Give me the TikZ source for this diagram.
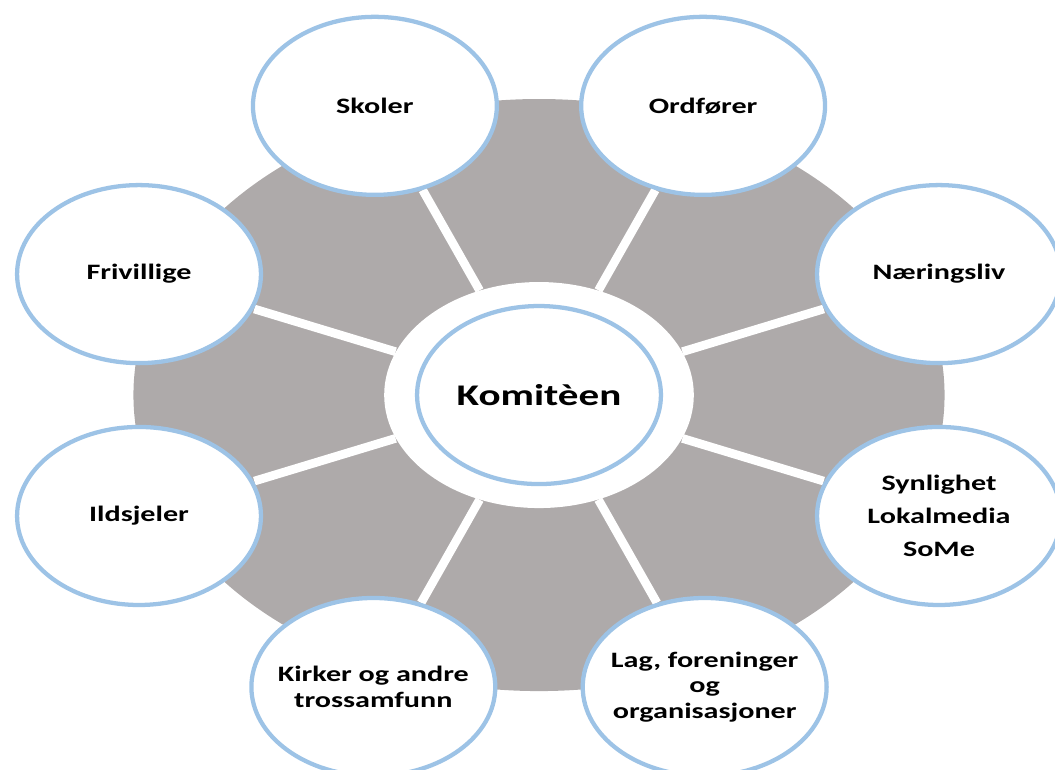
\documentclass[tikz,border=0pt]{standalone}
\usepackage{fontspec}
\setmainfont{Carlito}
\usetikzlibrary{backgrounds}
\definecolor{ringBlue}{RGB}{157,195,230}
\definecolor{ringGrey}{RGB}{174,170,170}
\begin{document}
\begin{tikzpicture}
[x=0.75pt,y=0.75pt,xscale=1.37,transform shape,
outerBead/.style={circle,draw=ringBlue,fill=white,line width=3.2pt,
inner sep=0pt,minimum size=133.5pt,align=center,
font=\bfseries\fontsize{16.5}{19}\selectfont},
whiteRing/.style={circle,fill=white,inner sep=0pt,minimum size=169.5pt},
spokeLine/.style={white,line width=6.5pt}]
  \useasboundingbox (-393.4,-374) rectangle (376.6,395);
  \node[whiteRing] (komiteeRing) at (0,0) {};
  \node[outerBead,font=\bfseries\fontsize{22.5}{26}\selectfont] (komiteeBead) at (0,0) {Komitèen};
  \node[outerBead] (ordforerBead)    at (67.5:313)  {Ordfører};
  \node[outerBead] (skolerBead)      at (112.5:313) {Skoler};
  \node[outerBead] (frivilligeBead)  at (157.5:316) {Frivillige};
  \node[outerBead] (ildsjelerBead)   at (202.5:316) {Ildsjeler};
  \node[outerBead] (kirkerBead)      at (247.5:316) {Kirker og andre\\trossamfunn};
  \node[outerBead] (lagBead)         at (292.5:316) {Lag, foreninger\\og\\organisasjoner};
  \node[outerBead] (synlighetBead)   at (337.5:316) {Synlighet\\[6pt]Lokalmedia\\[6pt]SoMe};
  \node[outerBead] (naeringslivBead) at (22.5:316)  {Næringsliv};
  \begin{scope}[on background layer]
    \fill[ringGrey] (0,0) circle [radius=296];
    \foreach \b in {ordforerBead,skolerBead,frivilligeBead,ildsjelerBead,
                    kirkerBead,lagBead,synlighetBead,naeringslivBead}
      \draw[spokeLine] (komiteeRing) -- (\b);
  \end{scope}
\end{tikzpicture}
\end{document}
